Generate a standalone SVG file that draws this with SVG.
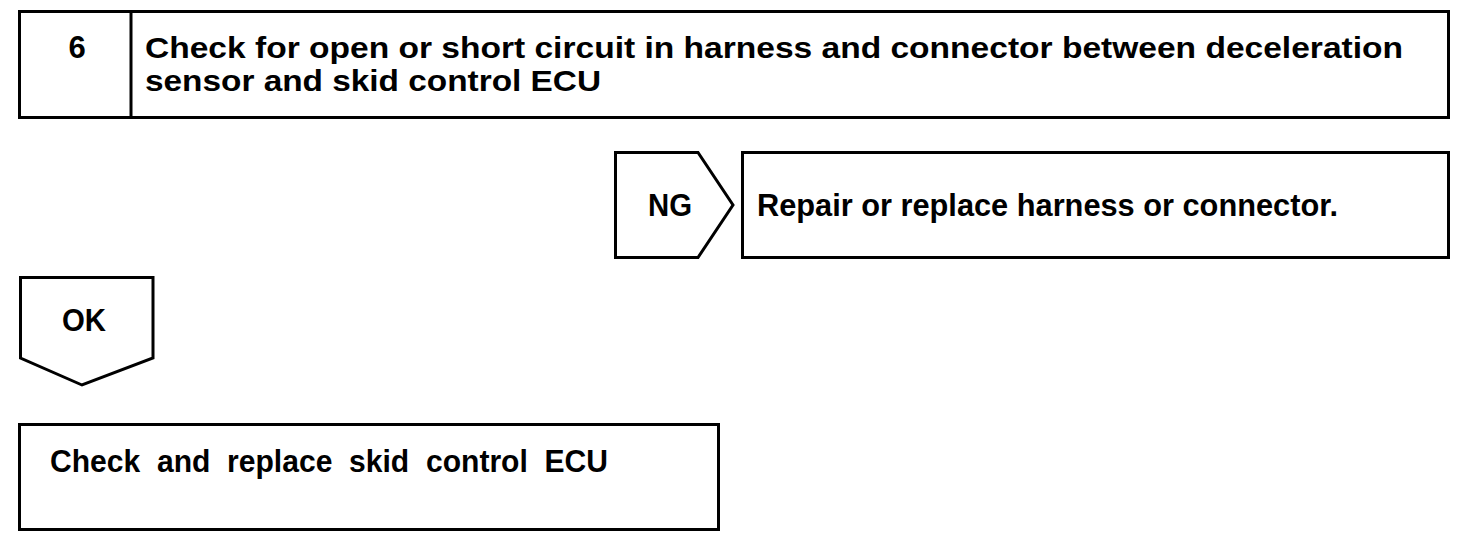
<svg xmlns="http://www.w3.org/2000/svg" width="1472" height="550" viewBox="0 0 1472 550">
<style>
.b{fill:#fff;stroke:#000;stroke-width:3}
.t{font-family:"Liberation Sans",Arial,sans-serif;font-weight:bold;font-size:31px;fill:#000}
.s{font-size:30px}
</style>
<rect width="1472" height="550" fill="#fff"/>
<g id="step6">
<rect class="b" x="19.5" y="11.5" width="1429" height="106"/>
<line x1="131" y1="11.5" x2="131" y2="117.5" stroke="#000" stroke-width="3"/>
<text class="t" x="77" y="58" text-anchor="middle">6</text>
<text class="t s" x="145" y="57.5" textLength="1258" lengthAdjust="spacingAndGlyphs">Check for open or short circuit in harness and connector between deceleration</text>
<text class="t s" x="145" y="91" textLength="456" lengthAdjust="spacingAndGlyphs">sensor and skid control ECU</text>
</g>
<g id="ng">
<polygon class="b" points="615.5,152.5 698,152.5 733,205 698,257.5 615.5,257.5"/>
<text class="t" x="670" y="216" text-anchor="middle" textLength="44" lengthAdjust="spacingAndGlyphs">NG</text>
</g>
<g id="repair">
<rect class="b" x="742.5" y="152.5" width="706" height="105"/>
<text class="t" x="757" y="216" textLength="581" lengthAdjust="spacingAndGlyphs">Repair or replace harness or connector.</text>
</g>
<g id="ok">
<polygon class="b" points="20.5,277.5 153,277.5 153,358 82,385 20.5,358"/>
<text class="t" x="84" y="331" text-anchor="middle" textLength="44" lengthAdjust="spacingAndGlyphs">OK</text>
</g>
<g id="ecu">
<rect class="b" x="19.5" y="424.5" width="699" height="105"/>
<text class="t" x="50" y="472" textLength="558" lengthAdjust="spacingAndGlyphs" xml:space="preserve" style="white-space:pre">Check  and  replace  skid  control  ECU</text>
</g>
<g id="connectors"></g>
</svg>
